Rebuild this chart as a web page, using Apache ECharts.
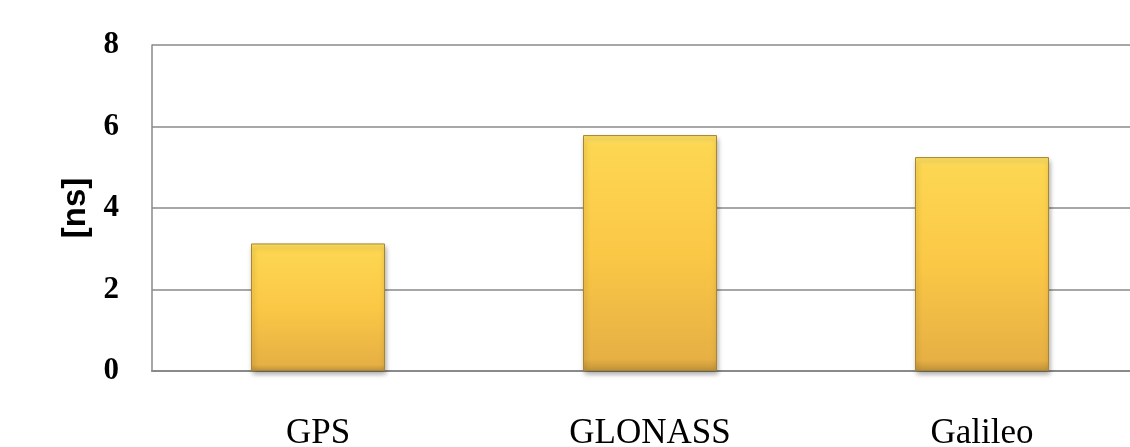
<!DOCTYPE html>
<html>
<head>
<meta charset="utf-8">
<script src="https://cdn.jsdelivr.net/npm/echarts@6/dist/echarts.min.js"></script>
<style>
  html, body { margin: 0; padding: 0; background: #fff; }
  #main { width: 1130px; height: 447px; }
</style>
</head>
<body>
<div id="main"></div>
<script>
// data
const categories = ['GPS', 'GLONASS', 'Galileo'];
const delayNs = [3.13, 5.79, 5.25];
const yMin = 0;
const yMax = 8;
const yStep = 2;

const chart = echarts.init(document.getElementById('main'));

const goldFill = new echarts.graphic.LinearGradient(0, 0, 0, 1, [
  { offset: 0, color: '#ffe265' },
  { offset: 0.05, color: '#fdd651' },
  { offset: 0.5, color: '#fbc846' },
  { offset: 0.95, color: '#e6b044' },
  { offset: 1, color: '#c09238' }
]);

chart.setOption({
  animation: false,
  grid: {
    left: 152,
    top: 45,
    bottom: 76,
    right: -18,
    outerBoundsMode: 'none'
  },
  xAxis: {
    type: 'category',
    data: categories,
    axisLine: { lineStyle: { color: '#8a8a8a', width: 2 } },
    axisTick: { show: false },
    axisLabel: {
      fontFamily: 'Liberation Serif',
      fontSize: 35,
      color: '#000',
      margin: 45
    }
  },
  yAxis: {
    type: 'value',
    min: yMin,
    max: yMax,
    interval: yStep,
    name: '[ns]',
    nameLocation: 'middle',
    nameGap: 58,
    nameRotate: 90,
    nameTextStyle: {
      fontFamily: 'Liberation Sans',
      fontWeight: 'bold',
      fontSize: 33,
      color: '#000'
    },
    axisLine: { show: true, lineStyle: { color: '#8a8a8a', width: 1.5 } },
    axisTick: { show: false },
    splitLine: { lineStyle: { color: '#8a8a8a', width: 1.5 } },
    axisLabel: {
      fontFamily: 'Liberation Serif',
      fontWeight: 'bold',
      fontSize: 31,
      color: '#000',
      margin: 33
    }
  },
  series: [
    {
      type: 'bar',
      data: delayNs,
      barWidth: 134,
      itemStyle: {
        color: goldFill,
        borderColor: '#a8862e',
        borderWidth: 1,
        shadowColor: 'rgba(0,0,0,0.35)',
        shadowBlur: 5,
        shadowOffsetX: 1,
        shadowOffsetY: 3
      }
    }
  ]
});
</script>
</body>
</html>
